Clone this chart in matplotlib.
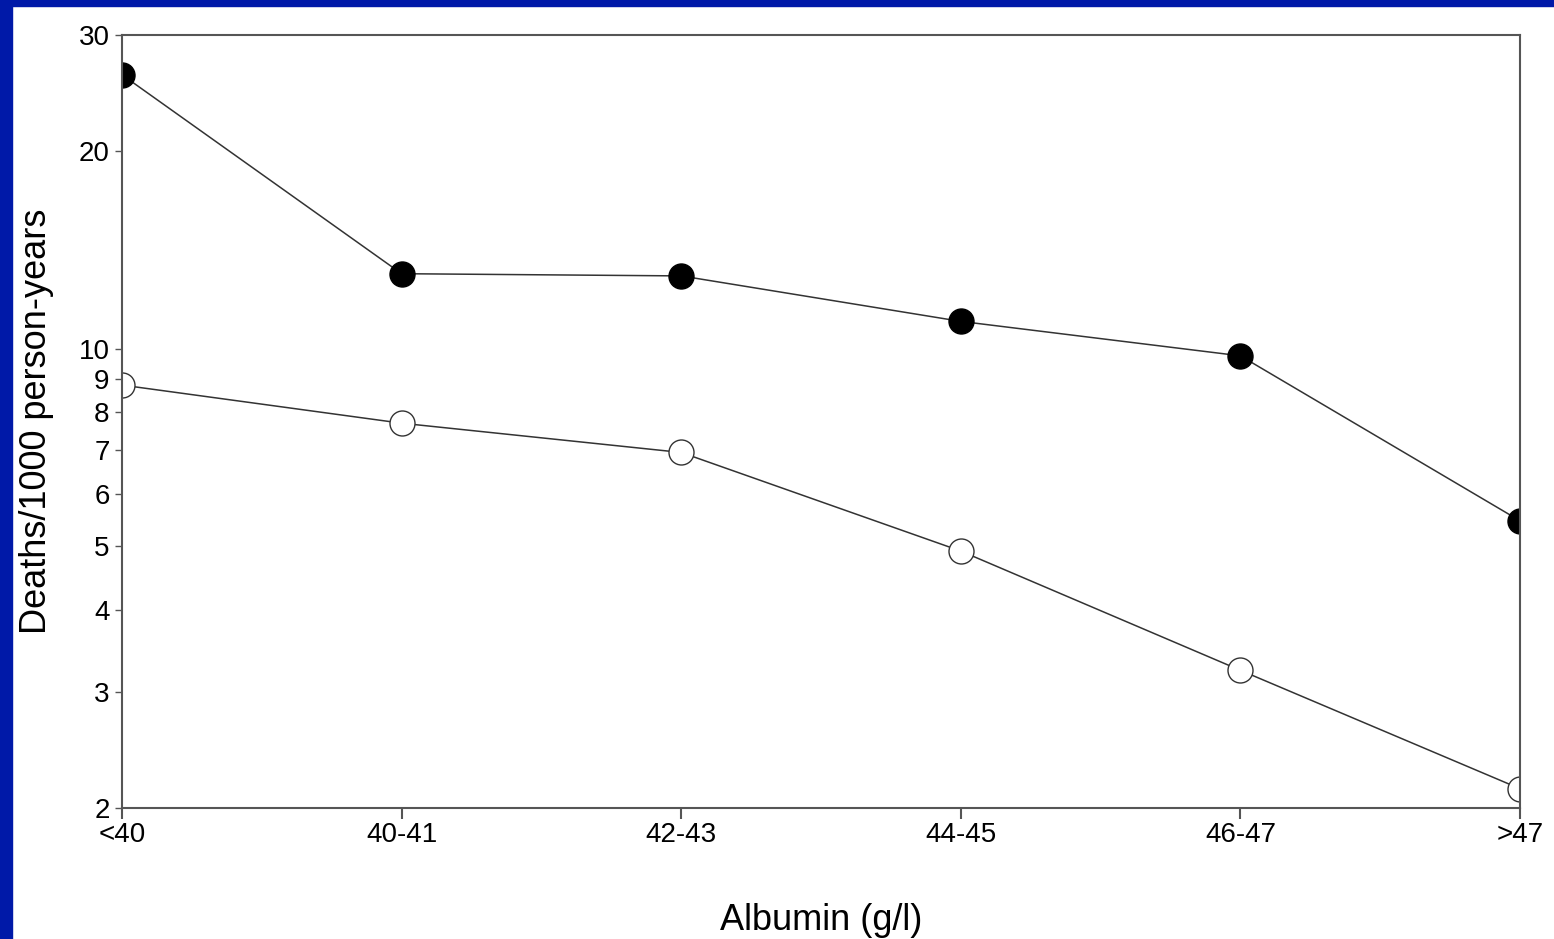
import matplotlib
matplotlib.use("Agg")
import matplotlib.pyplot as plt
from matplotlib.patches import Rectangle

plt.rcParams["font.family"] = ["Liberation Sans", "DejaVu Sans"]

categories = ["<40", "40-41", "42-43", "44-45", "46-47", ">47"]
filled_vals = [26.1, 13.0, 12.9, 11.0, 9.75, 5.47]
open_vals = [8.8, 7.7, 6.95, 4.92, 3.24, 2.14]
yticks = [2, 3, 4, 5, 6, 7, 8, 9, 10, 20, 30]

fig = plt.figure(figsize=(15.54, 9.39), dpi=100)
fig.patch.set_facecolor("white")
# blue frame strips on left and top
fig.patches.append(Rectangle((0, 0), 12 / 1554, 1, transform=fig.transFigure,
                             color="#0019A8", zorder=0))
fig.patches.append(Rectangle((0, 1 - 6 / 939), 1, 6 / 939, transform=fig.transFigure,
                             color="#0019A8", zorder=0))

ax = fig.add_axes([122 / 1554, 1 - 808 / 939, (1520 - 122) / 1554, (808 - 35) / 939])
x = list(range(len(categories)))

ax.plot(x, filled_vals, color="#333333", lw=1.1, marker="o", ms=18,
        mfc="black", mec="black", clip_on=True)
ax.plot(x, open_vals, color="#333333", lw=1.1, marker="o", ms=18,
        mfc="white", mec="#333333", mew=1.0, clip_on=True)

ax.set_yscale("log")
ax.set_ylim(2, 30)
ax.set_xlim(0, len(categories) - 1)
ax.set_yticks(yticks)
ax.set_yticklabels([str(t) for t in yticks])
ax.minorticks_off()
ax.set_xticks(x)
ax.set_xticklabels(categories)

for s in ax.spines.values():
    s.set_color("#555555")
    s.set_linewidth(1.5)

ax.tick_params(axis="y", direction="out", length=5, width=1, pad=4,
               labelsize=20, colors="#555555", labelcolor="black")
ax.tick_params(axis="x", direction="out", length=8, width=1.5, pad=2,
               labelsize=20, colors="#555555", labelcolor="black")

ax.set_xlabel("Albumin (g/l)", fontsize=26, labelpad=40)
ax.set_ylabel("Deaths/1000 person-years", fontsize=26, labelpad=18)

fig.savefig("out.png", dpi=100, facecolor="white")
